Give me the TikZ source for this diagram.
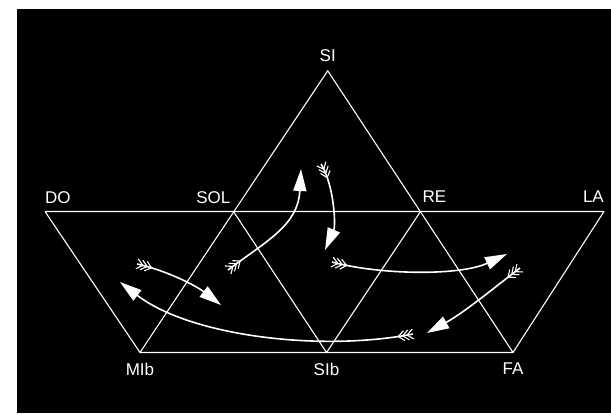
\documentclass[tikz,border=0pt]{standalone}
\usepackage{fontspec}
\setmainfont{Liberation Sans}
\usetikzlibrary{arrows.meta,positioning,decorations.markings}
\newcommand{\feather}{\draw[white,line width=1.1pt,-] (-6pt,5pt) -- (0pt,0pt) -- (-6pt,-5pt);}

\begin{document}
\begin{tikzpicture}[
      x=1pt,
      y=-1pt,
      line join=round,
      lbl/.style={text=white, inner sep=0pt, font=\fontsize{17}{17}\selectfont},
      lattice/.style={white, line width=1.1pt},
      hop/.style={white, line width=1.6pt,
          -{Triangle[length=22pt,width=13pt]},
          postaction={decorate},
          decoration={markings,
              mark=at position 6pt with {\feather},
              mark=at position 10.5pt with {\feather},
              mark=at position 15pt with {\feather}}}
    ]
    % paper and board
    \fill[white] (0,0) rectangle (611,413);
    \fill[black] (17,9) rectangle (611,413);
    \useasboundingbox (0,0) rectangle (611,413);

    % the notes
    \coordinate (si)  at (327.7,70.7);
    \coordinate (do)  at (45,211.5);
    \coordinate (sol) at (233.5,211.5);
    \coordinate (re)  at (420.5,211.5);
    \coordinate (la)  at (604,211.5);
    \coordinate (mib) at (140,352.5);
    \coordinate (sib) at (326.5,352.5);
    \coordinate (fa)  at (513,352.5);

    \node[lbl, above=9pt of si] (si-t) {SI};
    \node[lbl, above right=7.7pt and 0pt of do] (do-t) {DO};
    \node[lbl, above left=7.7pt and 3pt of sol] (sol-t) {SOL};
    \node[lbl, above right=8.7pt and 2pt of re] (re-t) {RE};
    \node[lbl, above left=8.5pt and 0pt of la] (la-t) {LA};
    \node[lbl, below=10.5pt of mib] (mib-t) {MIb};
    \node[lbl, below=10pt of sib] (sib-t) {SIb};
    \node[lbl, below=10pt of fa] (fa-t) {FA};

    \draw[lattice] (si) -- (mib) -- (fa) -- cycle;
    \draw[lattice] (do) -- (la) -- (fa) (mib) -- (do);
    \draw[lattice] (sol) -- (sib) -- (re);

    % ends of the moves
    \coordinate (a0) at (228,270);  \coordinate (a1) at (301,169);
    \coordinate (b0) at (321,164);  \coordinate (b1) at (325,250);
    \coordinate (c0) at (332,262);  \coordinate (c1) at (507,254);
    \coordinate (d0) at (520,268);  \coordinate (d1) at (427,333);
    \coordinate (e0) at (413,334);  \coordinate (e1) at (120,282);
    \coordinate (f0) at (137,264);  \coordinate (f1) at (221,305);

    \draw[hop] (a0) .. controls (268,240) and (298,225) .. (a1);
    \draw[hop] (b0) .. controls (334,185) and (336,225) .. (b1);
    \draw[hop] (c0) .. controls (380,275) and (460,276) .. (c1);
    \draw[hop] (d0) .. controls (495,287) and (465,312) .. (d1);
    \draw[hop] (e0) .. controls (320,352) and (190,336) .. (e1);
    \draw[hop] (f0) .. controls (165,270) and (195,285) .. (f1);
  \end{tikzpicture}
\end{document}
